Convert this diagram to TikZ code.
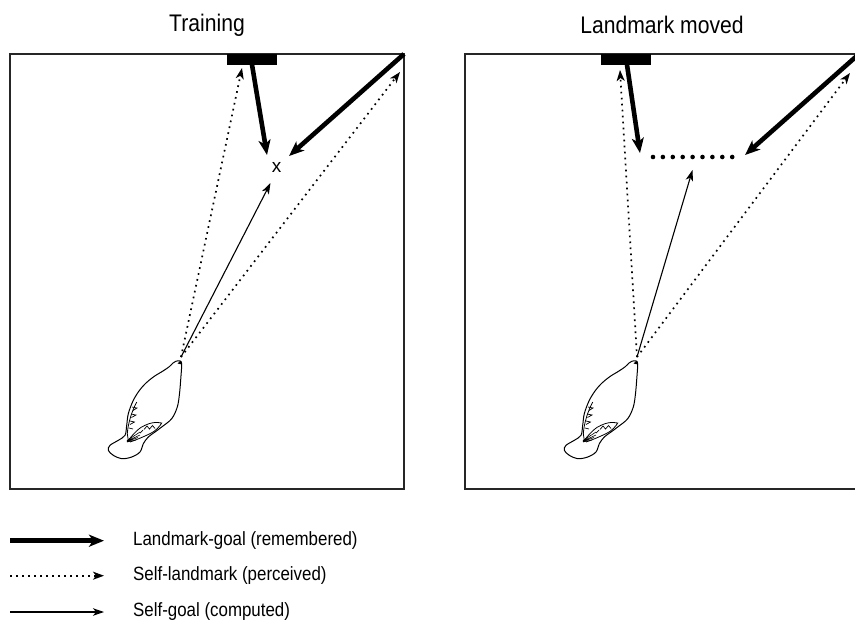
\documentclass[tikz,border=0pt]{standalone}
\usepackage{fontspec}
\setmainfont{Liberation Sans}
\newfontfamily\narrowsans[FakeStretch=0.88]{Liberation Sans}
\usetikzlibrary{arrows.meta}

\tikzset{
  px/.style={x=1pt,y=-1pt},
  arena/.style={draw=black!85,line width=1.3pt},
  landbar/.style={fill=black,draw=none,minimum width=50pt,minimum height=11pt,inner sep=0pt},
  remembered/.style={line width=4.6pt,-{Stealth[length=15pt,width=12pt,inset=4pt]}},
  perceived/.style={line width=1.7pt,dash pattern=on 1.7pt off 4.3pt,-{Stealth[length=11pt,width=8pt,inset=3pt]}},
  computed/.style={line width=1.1pt,-{Stealth[length=11pt,width=7.5pt,inset=3pt]}},
  title/.style={font=\narrowsans\fontsize{24}{28}\selectfont,inner sep=0pt},
  legendtext/.style={font=\narrowsans\fontsize{19.2}{23}\selectfont,anchor=west,inner sep=0pt},
  goalmark/.style={font=\fontsize{19}{22}\selectfont,inner sep=0pt},
  spot/.style={circle,fill=black,inner sep=0pt,minimum size=4.6pt},
  pigeon/.pic={
    % body outline, from the beak round the right flank, the tail and the back
    \draw[line width=1pt,line join=round]
      plot[smooth cycle,tension=0.55] coordinates{
        (0,0) (1.7,2.7) (0.9,16) (-0.5,32.7) (-2.7,46) (-8.3,57.7) (-18.3,66)
        (-25,71) (-31.7,76) (-36.7,82.7) (-40,91) (-48.3,96) (-58.3,97.7)
        (-66.7,94.3) (-71.7,89.3) (-70,84.3) (-61.7,79.3) (-55,74.3)
        (-53.3,64.3) (-51.7,52.7) (-47,40) (-41,30) (-34,22)
        (-26,15.5) (-17,10) (-10.5,5.5) (-7,2) (-4,0.2)};
    % beak
    \fill (0.5,-0.5) -- (2,3.5) -- (-2.5,2.5) -- cycle;
    % folded wing
    \draw[line width=0.8pt] (-43.3,41) .. controls (-48,50) and (-52,62) .. (-52.7,72.7)
      -- (-51.7,79.3);
    \draw[line width=0.7pt] (-48,46) -- (-43,47) -- (-47,49.5) (-49,53) -- (-44,54) -- (-48.5,56.5)
      (-50,60) -- (-45.5,61) -- (-50,63.5) (-51,67) -- (-47,68);
    \draw[line width=0.8pt] (-51.7,79.3) .. controls (-46,72) and (-40,66) .. (-35,64.3)
      .. controls (-30,62) and (-25,60.5) .. (-18.3,62)
      .. controls (-20,65) and (-24,70) .. (-30,72.7)
      .. controls (-37,76) and (-44,79) .. (-50,81);
    \draw[line width=0.7pt] (-36,68.5) -- (-33,65) -- (-30.5,68) -- (-27.5,64.5) -- (-25,67.5)
      (-40,72) -- (-37,69);
    % primaries
    \draw[line width=0.6pt] (-53,80) -- (-40,74) (-53,80.5) -- (-42,76.5) (-53,81) -- (-44,79)
      (-53,79.5) -- (-40,71);
  }
}

\begin{document}
\begin{tikzpicture}[px]
\useasboundingbox (0,0) rectangle (855,622);

% ---------------- training arena ----------------
\node[title] (ttrain) at (207,25) {Training};
\draw[arena] (10,54) rectangle (404,489);
\node[landbar] (Lmark) at (252,59) {};
\coordinate (Lcorner) at (404,54);
\coordinate (Lbeak) at (181,357);
\node[goalmark] (Lx) at (276.5,167) {x};
\coordinate (Lgoal1) at (267,155);
\coordinate (Lgoal2) at (289,156);
\coordinate (Lgoal3) at (270.5,183);
\coordinate (Lsee1) at (242,68);
\coordinate (Lsee2) at (400,72);
\pic at (180,361) {pigeon};

\draw[perceived] (Lbeak) -- (Lsee1);
\draw[perceived] (Lbeak) -- (Lsee2);
\draw[computed] (Lbeak) -- (Lgoal3);
\draw[remembered] (Lmark.south) -- (Lgoal1);
\draw[remembered] (Lcorner) -- (Lgoal2);

% ---------------- test with the landmark displaced ----------------
\node[title] (tmoved) at (662,25) {Landmark moved};
\draw[arena] (465,54) rectangle (859,489);
\node[landbar] (Rmark) at (625.5,59) {};
\coordinate (Rcorner) at (859,54);
\coordinate (Rbeak) at (637,357);
\coordinate (Rgoal1) at (640,153);
\coordinate (Rgoal2) at (745,155);
\coordinate (Rgoal3) at (692.5,170);
\coordinate (Rsee1) at (620,70);
\coordinate (Rsee2) at (850,73);
\foreach \i in {0,...,8} \node[spot] (Rspot\i) at ({653+\i*9.9},157) {};
\pic at (636,361) {pigeon};

\draw[perceived] (Rbeak) -- (Rsee1);
\draw[perceived] (Rbeak) -- (Rsee2);
\draw[computed] (Rbeak) -- (Rgoal3);
\draw[remembered] ([xshift=1.5pt]Rmark.south) -- (Rgoal1);
\draw[remembered] (Rcorner) -- (Rgoal2);

% ---------------- key ----------------
\coordinate (k1a) at (10,540.7);  \coordinate (k1b) at (104,540.7);
\coordinate (k2a) at (10,575.7);  \coordinate (k2b) at (104,575.7);
\coordinate (k3a) at (10,612);    \coordinate (k3b) at (104,612);
\draw[remembered] (k1a) -- (k1b);
\draw[perceived] (k2a) -- (k2b);
\draw[computed] (k3a) -- (k3b);
\node[legendtext] (l1) at (133,540.7) {Landmark-goal (remembered)};
\node[legendtext] (l2) at (133,575.7) {Self-landmark (perceived)};
\node[legendtext] (l3) at (133,612) {Self-goal (computed)};
\end{tikzpicture}
\end{document}
